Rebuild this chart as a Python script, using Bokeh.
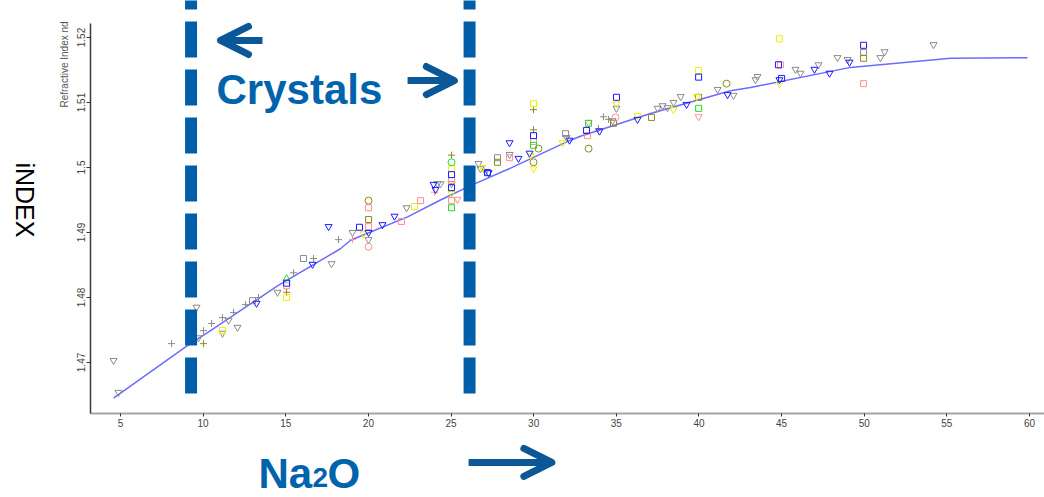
import math
from bokeh.plotting import figure
from bokeh.layouts import row, column
from bokeh.models import (Range1d, FixedTicker, CustomJSTickFormatter, Label,
                          Arrow, OpenHead)
from bokeh.embed import file_html
from bokeh.resources import INLINE

# ---------------- data ----------------
x_ticks = [5, 10, 15, 20, 25, 30, 35, 40, 45, 50, 55, 60]
y_ticks = [1.47, 1.48, 1.49, 1.50, 1.51, 1.52]

# Na2O limits of the crystal-free region
crystal_na2o_bounds = [9.27, 26.12]

# fitted curve
curve_x = [4.58, 9.05, 10.75, 14.5, 18.31, 18.92, 22.37, 24.36, 26.18, 28.6,
           32.23, 32.83, 37.07, 41.91, 43.12, 49.17, 55.22, 59.88]
curve_y = [1.4645, 1.4726, 1.4754, 1.4818, 1.4875, 1.4888, 1.4924, 1.4950, 1.4972, 1.4999,
           1.5042, 1.5048, 1.5083, 1.5118, 1.5123, 1.5154, 1.5168, 1.5169]

grey_tri_x = [4.58, 4.88, 9.60, 9.72, 11.54, 11.17, 12.08, 14.50, 17.77, 19.04,
              20.01, 22.31, 24.18, 24.36, 26.66, 27.08, 26.78, 28.54, 31.99, 35.01,
              37.50, 37.80, 38.10, 38.46, 38.89, 41.13, 42.09, 43.42, 43.54, 45.84,
              46.14, 47.23, 48.38, 48.99, 50.98, 51.23, 54.19, 25.03, 34.77]
grey_tri_y = [1.4703, 1.4654, 1.4785, 1.4738, 1.4765, 1.4745, 1.4754, 1.4808, 1.4852, 1.4900,
              1.4889, 1.4938, 1.4975, 1.4975, 1.5006, 1.4994, 1.4998, 1.5020, 1.5046, 1.5091,
              1.5091, 1.5095, 1.5092, 1.5100, 1.5109, 1.5120, 1.5111, 1.5135, 1.5140, 1.5151,
              1.5145, 1.5158, 1.5169, 1.5166, 1.5169, 1.5178, 1.5189, 1.4975, 1.5072]

blue_tri_x = [13.23, 16.62, 17.59, 20.01, 20.85, 21.58, 23.94, 24.06, 27.27, 28.54,
              29.08, 29.75, 32.17, 33.98, 36.28, 39.25, 41.73, 44.87, 46.99, 47.90, 49.11]
blue_tri_y = [1.4791, 1.4851, 1.4909, 1.4900, 1.4912, 1.4925, 1.4974, 1.4966, 1.4992, 1.5038,
              1.5014, 1.5022, 1.5042, 1.5056, 1.5074, 1.5097, 1.5112, 1.5135, 1.5151, 1.5145, 1.5162]

grey_plus_x = [8.09, 10.02, 10.51, 11.17, 11.84, 12.56, 13.35, 15.47, 16.68, 18.19, 33.92, 34.22, 34.53]
grey_plus_y = [1.4729, 1.4749, 1.4760, 1.4769, 1.4777, 1.4789, 1.4800, 1.4838, 1.4860, 1.4889,
               1.5060, 1.5078, 1.5074]

olive_plus_x = [10.02, 15.05, 25.03, 29.99, 29.99]
olive_plus_y = [1.4729, 1.4808, 1.5019, 1.5089, 1.5058]

blue_sq_x = [15.05, 19.46, 25.03, 25.03, 27.21, 29.99, 33.20, 35.01, 39.98, 44.81, 45.00, 49.96]
blue_sq_y = [1.4822, 1.4908, 1.4989, 1.4969, 1.4992, 1.5049, 1.5057, 1.5108, 1.5139, 1.5158, 1.5137, 1.5188]

yellow_sq_x = [11.17, 15.05, 25.03, 29.99, 39.98, 44.87, 22.79]
yellow_sq_y = [1.4749, 1.4800, 1.4998, 1.5098, 1.5149, 1.5198, 1.4940]

pink_sq_x = [15.05, 20.01, 20.01, 22.00, 23.15, 25.03, 25.03, 29.99, 33.26, 44.93, 49.96, 28.54]
pink_sq_y = [1.4818, 1.4938, 1.4909, 1.4917, 1.4949, 1.4980, 1.4949, 1.5040, 1.5049, 1.5158, 1.5129, 1.5015]

pink_circ_x = [20.01, 34.95]
pink_circ_y = [1.4878, 1.5077]

pink_tri_x = [25.39, 33.32, 39.98]
pink_tri_y = [1.4951, 1.5069, 1.5078]

pink_plus_x = [19.04, 24.0]
pink_plus_y = [1.4889, 1.4962]

green_sq_x = [25.03, 29.99, 39.98, 33.32]
green_sq_y = [1.4938, 1.5034, 1.5091, 1.5068]

green_circ_x = [25.03]
green_circ_y = [1.5008]

green_tri_x = [15.05]
green_tri_y = [1.4829]

olive_circ_x = [20.01, 30.29, 29.99, 33.32, 41.67]
olive_circ_y = [1.4949, 1.5029, 1.5008, 1.5029, 1.5129]

olive_sq_x = [20.01, 27.81, 37.13, 39.98, 49.96, 34.83]
olive_sq_y = [1.4920, 1.5008, 1.5077, 1.5108, 1.5168, 1.5068]

grey_sq_x = [12.99, 16.07, 27.81, 31.93, 49.96]
grey_sq_y = [1.4795, 1.4860, 1.5015, 1.5052, 1.5177]

yellow_tri_x = [25.03, 26.90, 29.81, 29.99, 31.75, 35.01, 36.28, 38.46, 39.86, 44.87, 19.70]
yellow_tri_y = [1.4960, 1.5000, 1.5018, 1.4998, 1.5038, 1.5098, 1.5080, 1.5089, 1.5109, 1.5129, 1.4898]

# ---------------- styles ----------------
GREY = "#8a8a8a"
BLUE = "#1a1aff"
YELLOW = "#eeee00"
PINK = "#ff8f8f"
GREEN = "#1fdd1f"
OLIVE = "#8c8a1e"
CURVE = "#6b6bff"
TEXT_BLUE = "#0063ac"
ARROW_BLUE = "#0b5798"
DASH_BLUE = "#005ea8"
FONT = "Liberation Sans"

# scale of the picture: 16.527 px per Na2O unit, 6500 px per index unit
X_MAIN = (3.185, 60.907)     # main frame, x 90..1044
Y_MAIN = (1.46215, 1.52569)  # main frame, y 413..0
X_LEFT = (-2.261, 1.975)     # left strip, x 0..70
Y_LEFT = (1.45877, 1.52569)  # left strip, y 435..0
Y_BOTTOM = (1.44923, 1.45877)  # bottom strip, y 497..435


def bare(width, height, xr, yr, left=0):
    f = figure(width=width, height=height, output_backend="svg", toolbar_location=None,
               x_range=Range1d(*xr), y_range=Range1d(*yr),
               x_axis_location=None, y_axis_location=None,
               min_border_left=left, min_border_right=0, min_border_top=0, min_border_bottom=0)
    f.outline_line_color = None
    f.grid.visible = False
    f.background_fill_color = "white"
    f.border_fill_color = "white"
    return f


# ---------------- main plot ----------------
p = figure(width=974, height=435, output_backend="svg", toolbar_location=None,
           x_range=Range1d(*X_MAIN), y_range=Range1d(*Y_MAIN),
           min_border_left=20, min_border_right=0, min_border_top=0, min_border_bottom=22)
p.outline_line_color = None
p.grid.visible = False
p.background_fill_color = "white"
p.border_fill_color = "white"

p.xaxis.ticker = FixedTicker(ticks=x_ticks)
p.xaxis.axis_line_color = "#a6a6a6"
p.xaxis.axis_line_width = 2
p.xaxis.major_tick_line_color = "#333333"
p.xaxis.major_tick_out = 3
p.xaxis.major_tick_in = 0
p.xaxis.minor_tick_line_color = None
p.xaxis.major_label_text_font = FONT
p.xaxis.major_label_text_font_size = "10px"
p.xaxis.major_label_text_color = "#444444"
p.xaxis.major_label_standoff = 2

p.yaxis.ticker = FixedTicker(ticks=y_ticks)
p.yaxis.formatter = CustomJSTickFormatter(code="return String(+tick.toFixed(2));")
p.yaxis.bounds = (Y_MAIN[0], 1.5222)
p.yaxis.axis_line_color = "#3a3a3a"
p.yaxis.axis_line_width = 1.5
p.yaxis.major_tick_line_color = "#333333"
p.yaxis.major_tick_out = 4
p.yaxis.major_tick_in = 0
p.yaxis.minor_tick_line_color = None
p.yaxis.major_label_orientation = "vertical"
p.yaxis.major_label_text_font = FONT
p.yaxis.major_label_text_font_size = "10px"
p.yaxis.major_label_text_color = "#444444"
p.yaxis.major_label_standoff = 1

p.line(curve_x, curve_y, line_color=CURVE, line_width=1.5)

series = [
    (grey_tri_x, grey_tri_y, "inverted_triangle", GREY, 7),
    (grey_plus_x, grey_plus_y, "cross", GREY, 7),
    (grey_sq_x, grey_sq_y, "square", GREY, 6),
    (olive_plus_x, olive_plus_y, "cross", OLIVE, 7),
    (olive_circ_x, olive_circ_y, "circle", OLIVE, 7),
    (olive_sq_x, olive_sq_y, "square", OLIVE, 6),
    (yellow_sq_x, yellow_sq_y, "square", YELLOW, 6),
    (yellow_tri_x, yellow_tri_y, "inverted_triangle", YELLOW, 7),
    (pink_sq_x, pink_sq_y, "square", PINK, 6),
    (pink_circ_x, pink_circ_y, "circle", PINK, 7),
    (pink_tri_x, pink_tri_y, "inverted_triangle", PINK, 7),
    (pink_plus_x, pink_plus_y, "cross", PINK, 7),
    (green_sq_x, green_sq_y, "square", GREEN, 6),
    (green_circ_x, green_circ_y, "circle", GREEN, 7),
    (green_tri_x, green_tri_y, "triangle", GREEN, 7),
    (blue_sq_x, blue_sq_y, "square", BLUE, 6),
    (blue_tri_x, blue_tri_y, "inverted_triangle", BLUE, 7),
]
for xs, ys, mk, col, sz in series:
    p.scatter(xs, ys, marker=mk, size=sz, fill_color=None, line_color=col, line_width=1)

for xb in crystal_na2o_bounds:
    p.add_layout(Arrow(start=None, end=None, x_start=xb, y_start=1.46523, x_end=xb, y_end=1.5270,
                       line_width=12, line_color=DASH_BLUE, line_dash="36 12"))


def add_arrow(fig, xs, xe, y):
    head = OpenHead(size=28, line_width=7, line_color=ARROW_BLUE, line_cap="round", line_join="round")
    fig.add_layout(Arrow(end=head, x_start=xs, y_start=y, x_end=xe, y_end=y,
                         line_width=7, line_color=ARROW_BLUE))


add_arrow(p, 13.59, 11.05, 1.51954)
add_arrow(p, 22.37, 25.2, 1.51338)

p.add_layout(Label(x=10.81, y=1.51200, text="Crystals", text_font=FONT, text_font_style="bold",
                   text_font_size="42px", text_color=TEXT_BLUE, text_baseline="alphabetic",
                   text_align="left"))

# ---------------- left strip (axis titles) ----------------
left = bare(70, 435, X_LEFT, Y_LEFT)
left.add_layout(Label(x=-0.75, y=1.49338, text="iNDEX", text_font=FONT, text_font_size="25px",
                      text_color="black", angle=-math.pi / 2, text_align="center",
                      text_baseline="middle"))
left.add_layout(Label(x=1.61, y=1.52231, text="Refractive Index nd", text_font=FONT,
                      text_font_size="10px", text_color="#555555", angle=math.pi / 2,
                      text_align="right", text_baseline="middle"))

# ---------------- bottom strip (x title) ----------------
bottom = bare(1044, 62, X_MAIN, Y_BOTTOM, left=90)
for txt, xx, yy, fs in [("Na", 13.35, 1.45292, "42px"), ("2", 16.62, 1.45230, "28px"),
                        ("O", 17.52, 1.45292, "42px")]:
    bottom.add_layout(Label(x=xx, y=yy, text=txt, text_font=FONT, text_font_style="bold",
                            text_font_size=fs, text_color=TEXT_BLUE, text_baseline="alphabetic",
                            text_align="left"))
add_arrow(bottom, 26.06, 31.1, 1.45462)

layout = column(row(left, p, spacing=0), bottom, spacing=0)
open("out.html", "w").write(file_html(layout, INLINE))
